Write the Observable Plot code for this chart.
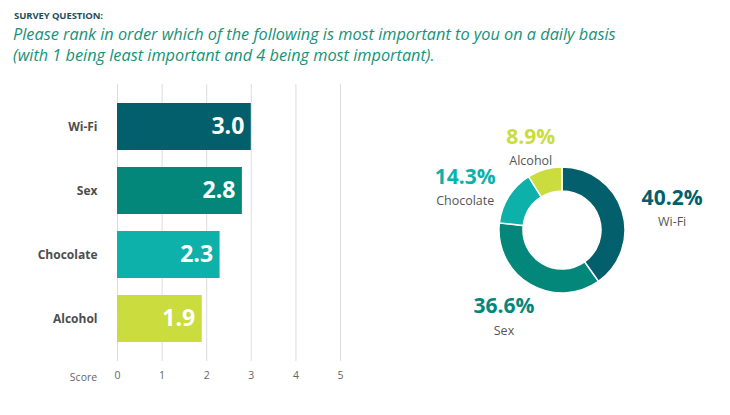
<!DOCTYPE html>
<html>
<head>
<meta charset="utf-8">
<script src="https://cdn.jsdelivr.net/npm/d3@7"></script>
<script src="https://cdn.jsdelivr.net/npm/@observablehq/plot@0.6"></script>
<style>
  body { margin: 0; background: #fff; font-family: "Open Sans", Lato, sans-serif; }
  #root { position: relative; width: 730px; height: 415px; overflow: hidden; }
  #kicker { position: absolute; left: 14px; top: 9px; font-size: 9.5px; font-weight: 700; color: #1d4f5c; letter-spacing: -0.1px; }
  #question { position: absolute; left: 13px; top: 24px; font-size: 16.3px; font-style: italic; color: #169277; line-height: 20.5px; white-space: nowrap; }
  #bars { position: absolute; left: 0; top: 70px; }
  #donut { position: absolute; left: 360px; top: 70px; }
</style>
</head>
<body>
<div id="root">
  <div id="kicker">SURVEY QUESTION:</div>
  <div id="question">Please rank in order which of the following is most important to you on a daily basis<br>(with 1 being least important and 4 being most important).</div>
  <div id="bars"></div>
  <div id="donut"></div>
</div>
<script>
// ---- data ----
const categories = ["Wi-Fi", "Sex", "Chocolate", "Alcohol"];
const scores = [3.0, 2.8, 2.3, 1.9];
const shares = [40.2, 36.6, 14.3, 8.9];
const colors = ["#035f6c", "#03877a", "#0eb0aa", "#cadc3e"];
const scoreTicks = [0, 1, 2, 3, 4, 5];
const axisLabel = "Score";

const rows = categories.map((c, i) => ({category: c, score: scores[i], share: shares[i], color: colors[i]}));
const font = "'Open Sans', Lato, sans-serif";

// ---- bar chart ----
const bars = Plot.plot({
  width: 360,
  height: 330,
  marginLeft: 117,
  marginRight: 20,
  marginTop: 14,
  marginBottom: 39,
  style: {fontFamily: font, background: "transparent"},
  x: {domain: [0, 5], ticks: scoreTicks, tickSize: 0, tickPadding: 11, label: null, tickFormat: d3.format("d")},
  y: {domain: categories, padding: 0.27, tickSize: 0, tickPadding: 20, label: null},
  marks: [
    Plot.gridX(scoreTicks, {stroke: "#dcdcdc", strokeOpacity: 1, strokeWidth: 1}),
    Plot.barX(rows, {x: "score", y: "category", fill: "color"}),
    Plot.text(rows, {x: "score", y: "category", text: d => d.score.toFixed(1), textAnchor: "end", dx: -7, fill: "white", fontSize: 23, fontWeight: 700}),
    Plot.axisX({ticks: scoreTicks, tickSize: 0, tickPadding: 10, fontSize: 10.5, color: "#666", tickFormat: d3.format("d"), label: null}),
    Plot.axisY({tickSize: 0, tickPadding: 20, fontSize: 12, fontWeight: 700, color: "#4d4d4d", label: null}),
    Plot.text([axisLabel], {frameAnchor: "bottom-left", textAnchor: "middle", lineAnchor: "middle", dx: -34, dy: 16, fontSize: 10.5, fill: "#666"})
  ]
});
document.getElementById("bars").append(bars);

// ---- donut chart ----
const pie = d3.pie().value(d => d.share).sort(null)(rows);
const labelRows = pie.map(p => {
  const a = (p.startAngle + p.endAngle) / 2;
  return {...p.data, lx: Math.sin(a) * 115, ly: -Math.cos(a) * 93 + 8};
});

const donutMark = (index, scales) => {
  const cx = scales.x(0), cy = scales.y(0);
  const unit = Math.abs(scales.x(1) - scales.x(0));
  const arc = d3.arc().innerRadius(39 * unit).outerRadius(63 * unit);
  const g = d3.create("svg:g").attr("transform", `translate(${cx},${cy})`);
  g.selectAll("path").data(pie).join("path")
    .attr("d", arc)
    .attr("fill", d => d.data.color)
    .attr("stroke", "white")
    .attr("stroke-width", 1.5);
  return g.node();
};

const donut = Plot.plot({
  width: 370,
  height: 330,
  margin: 0,
  style: {fontFamily: font, background: "transparent"},
  x: {domain: [-202, 168], range: [0, 370], axis: null},
  y: {domain: [-160, 170], range: [0, 330], axis: null},
  marks: [
    donutMark,
    Plot.text(labelRows, {x: "lx", y: "ly", text: d => d.share.toFixed(1) + "%", fill: "color", fontSize: 21, fontWeight: 700, dy: -12}),
    Plot.text(labelRows, {x: "lx", y: "ly", text: "category", fill: "#555", fontSize: 12.5, dy: 12})
  ]
});
document.getElementById("donut").append(donut);
</script>
</body>
</html>
